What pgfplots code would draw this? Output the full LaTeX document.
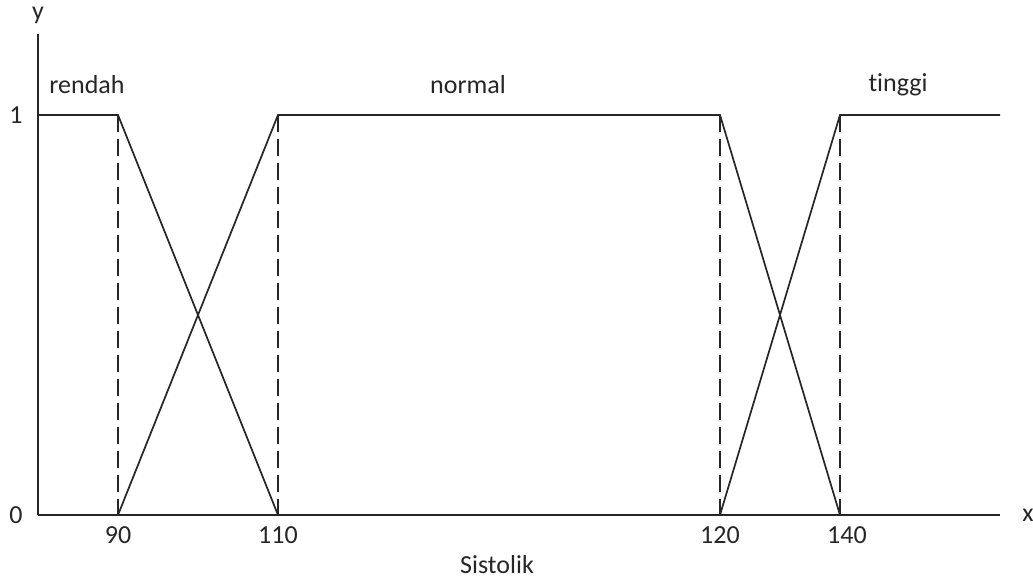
\documentclass[border=0pt]{standalone}
\usepackage{pgfplots}
\pgfplotsset{compat=1.18}
\usepackage{fontspec}
\setmainfont{Carlito}[Ligatures={NoCommon}]
\begin{document}
\begin{tikzpicture}
\useasboundingbox (-38pt,-64pt) rectangle (995pt,515pt);
\begin{axis}[
  scale only axis, width=962pt, height=481pt,
  xmin=0, xmax=962, ymin=0, ymax=1.2025,
  axis lines=left, axis line style={-, line width=2pt, color=black!85},
  clip=false,
  xtick={80,240,682}, xticklabels={90,110,120},
  extra x ticks={802}, extra x tick labels={140},
  extra x tick style={xticklabel style={xshift=7pt}},
  ytick={0,1}, yticklabels={0,1},
  major tick length=0pt,
  tick label style={font=\fontsize{26}{30}\selectfont, text=black!85},
  yticklabel style={xshift=-12pt},
  xticklabel style={yshift=-8pt},
]
\addplot[line width=1.7pt, black!85] coordinates {(0,1) (80,1) (240,0)};
\addplot[line width=1.7pt, black!85] coordinates {(80,0) (240,1) (682,1) (802,0)};
\addplot[line width=1.7pt, black!85] coordinates {(682,0) (802,1) (962,1)};
\addplot[line width=1.7pt, black!85, dash pattern=on 17pt off 7pt] coordinates {(80,1) (80,0)};
\addplot[line width=1.7pt, black!85, dash pattern=on 17pt off 7pt] coordinates {(240,1) (240,0)};
\addplot[line width=1.7pt, black!85, dash pattern=on 17pt off 7pt] coordinates {(682,1) (682,0)};
\addplot[line width=1.7pt, black!85, dash pattern=on 17pt off 7pt] coordinates {(802,1) (802,0)};
\node[font=\fontsize{26}{30}\selectfont, text=black!85] at (axis cs:0,1.25) {y};
\node[font=\fontsize{26}{30}\selectfont, text=black!85] at (axis cs:990,0.0) {x};
\node[font=\fontsize{26}{30}\selectfont, text=black!85] at (axis cs:49,1.075) {rendah};
\node[font=\fontsize{26}{30}\selectfont, text=black!85] at (axis cs:430,1.075) {normal};
\node[font=\fontsize{26}{30}\selectfont, text=black!85] at (axis cs:860,1.075) {tinggi};
\node[font=\fontsize{26}{30}\selectfont, text=black!85] at (axis cs:459,-0.125) {Sistolik};
\end{axis}
\end{tikzpicture}
\end{document}
